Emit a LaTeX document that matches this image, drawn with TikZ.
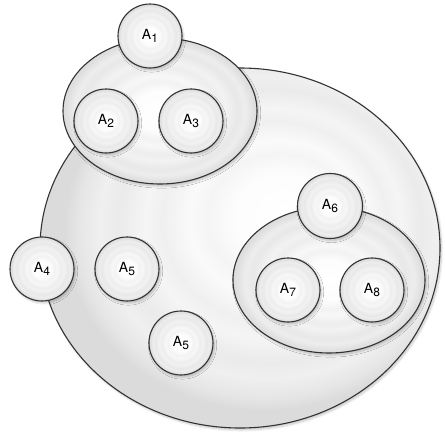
\documentclass[tikz,border=0pt]{standalone}
\usepackage{fontspec}
\setmainfont{TeX Gyre Heros}
\usetikzlibrary{shapes.geometric,shadows.blur}
\pgfdeclareradialshading{rings}{\pgfpoint{0bp}{0bp}}{%
color(0bp)=(white);
color(7bp)=(white!99!black);
color(10bp)=(white!95!black);
color(12bp)=(white!97!black);
color(15bp)=(white!93!black);
color(17bp)=(white!95!black);
color(20bp)=(white!91!black);
color(22bp)=(white!93!black);
color(24bp)=(white!88!black);
color(25bp)=(white!86!black);
color(50bp)=(white!86!black)}
\pgfdeclareradialshading{bigrings}{\pgfpoint{6bp}{5bp}}{%
color(0bp)=(white);
color(6bp)=(white!99!black);
color(9bp)=(white!96!black);
color(11bp)=(white!98!black);
color(14bp)=(white!94!black);
color(16bp)=(white!96!black);
color(19bp)=(white!92!black);
color(21bp)=(white!94!black);
color(23.5bp)=(white!90!black);
color(25bp)=(white!86!black);
color(50bp)=(white!86!black)}
\tikzset{
  outline/.style={draw=black!80, line width=1.1pt},
  soft/.style={blur shadow={shadow xshift=1.5pt, shadow yshift=-2pt, shadow opacity=22, shadow blur steps=8}},
  set/.style={ellipse, outline, shading=rings, inner sep=0pt, soft},
  elem/.style={circle, outline, shading=rings, inner sep=0pt, minimum size=64pt,
    font=\fontsize{14}{14}\selectfont, soft}
}
\newcommand{\lab}[1]{A\raisebox{-0.5ex}{\fontsize{12}{12}\selectfont #1}}
\begin{document}
\begin{tikzpicture}[x=1pt,y=-1pt]
\useasboundingbox (0,0) rectangle (445,434);
\node[set, shading=bigrings, minimum width=400pt, minimum height=360pt] (big) at (240,248) {};
\node[set, minimum width=194pt, minimum height=146pt] (top) at (160,111) {};
\node[elem] (a1) at (150,36) {\lab{1}};
\node[elem] (a2) at (106,121) {\lab{2}};
\node[elem] (a3) at (191,121) {\lab{3}};
\node[elem] (a4) at (42,269) {\lab{4}};
\node[elem] (a5) at (127,269) {\lab{5}};
\node[elem] (a5b) at (181,343) {\lab{5}};
\node[set, minimum width=192pt, minimum height=146pt] (right) at (329,280) {};
\node[elem, minimum size=65pt] (a6) at (330,206) {\lab{6}};
\node[elem] (a7) at (288,290) {\lab{7}};
\node[elem] (a8) at (372,290) {\lab{8}};
\end{tikzpicture}
\end{document}
